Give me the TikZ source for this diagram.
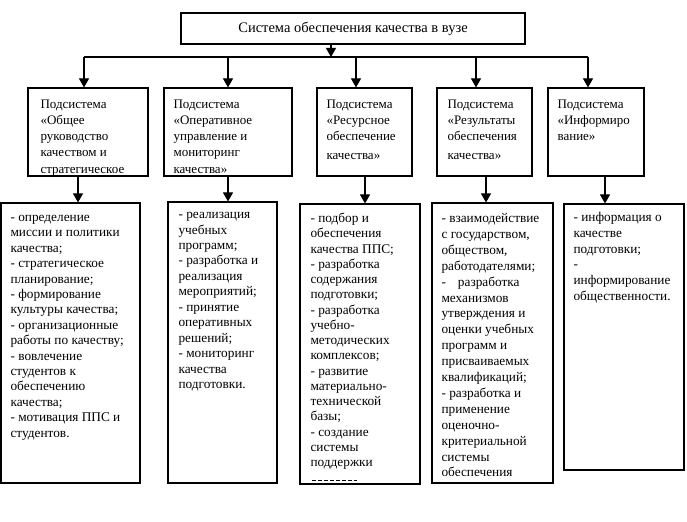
\documentclass[tikz,border=0pt]{standalone}
\usepackage{fontspec}
\setmainfont{Liberation Serif}
\usetikzlibrary{arrows.meta}
\begin{document}
\begin{tikzpicture}[x=1bp,y=-1bp,line width=1.1bp,
  box/.style={draw,inner sep=0,minimum width=#1},
  arr/.style={-{Triangle[width=10bp,length=9bp]}},
  txt/.style={anchor=north west,inner sep=0,align=left,font=\fontsize{13.3bp}{#1bp}\selectfont},
  stxt/.style={anchor=north west,inner sep=0,align=left,font=\fontsize{13bp}{16.1bp}\selectfont}]
\useasboundingbox (0,0) rectangle (687,522);
% title
\node[box=344bp,minimum height=31bp,font=\fontsize{14.5bp}{17bp}\selectfont] (title) at (353,28.5) {Система обеспечения качества в вузе};
% subsystem boxes
\node[box=120bp,minimum height=88bp] (s1) at (88,132) {};
\node[box=128bp,minimum height=88bp] (s2) at (228,132) {};
\node[box=95bp,minimum height=88bp] (s3) at (364.5,132) {};
\node[box=95bp,minimum height=88bp] (s4) at (484.5,132) {};
\node[box=96bp,minimum height=88bp] (s5) at (596,132) {};
% detail boxes
\node[box=139bp,minimum height=280bp] (d1) at (70.5,343) {};
\node[box=109bp,minimum height=281bp] (d2) at (222.5,342.5) {};
\node[box=120bp,minimum height=280bp] (d3) at (360,344) {};
\node[box=121bp,minimum height=280bp] (d4) at (492.5,343) {};
\node[box=120bp,minimum height=266bp] (d5) at (624,337) {};
% subsystem texts
\node[stxt] (t1) at (40,96.8) {\strut Подсистема\\«Общее\\руководство\\качеством и\\стратегическое};
\node[stxt] (t2) at (173,96.8) {\strut Подсистема\\«Оперативное\\управление и\\мониторинг\\качества»};
\node[stxt] (t3) at (326,96.8) {\strut Подсистема\\«Ресурсное\\обеспечение\\[3bp]качества»};
\node[stxt] (t4) at (447,96.8) {\strut Подсистема\\«Результаты\\обеспечения\\[3bp]качества»};
\node[stxt] (t5) at (557,96.8) {\strut Подсистема\\«Информиро\\вание»};
% detail texts
\node[txt=15.4] (u1) at (10,210.2) {\strut - определение\\миссии и политики\\качества;\\- стратегическое\\планирование;\\- формирование\\культуры качества;\\- организационные\\работы по качеству;\\- вовлечение\\студентов к\\обеспечению\\качества;\\- мотивация ППС и\\студентов.};
\node[txt=15.45] (u2) at (178,207.2) {\strut - реализация\\учебных\\программ;\\- разработка и\\реализация\\мероприятий;\\- принятие\\оперативных\\решений;\\- мониторинг\\качества\\подготовки.};
\node[txt=15.25] (u3) at (310,211.3) {\strut - подбор и\\обеспечения\\качества ППС;\\- разработка\\содержания\\подготовки;\\- разработка\\учебно-\\методических\\комплексов;\\- развитие\\материально-\\технической\\базы;\\- создание\\системы\\поддержки};
\node[txt=15.9] (u4) at (441,210.9) {\strut - взаимодействие\\с государством,\\обществом,\\работодателями;\\-\hspace{12bp}разработка\\механизмов\\утверждения и\\оценки учебных\\программ и\\присваиваемых\\квалификаций;\\- разработка и\\применение\\оценочно-\\критериальной\\системы\\обеспечения};
\node[txt=15.8] (u5) at (573,209.9) {\strut - информация о\\качестве\\подготовки;\\-\\информирование\\общественности.};
% clipped line remnant in d3
\draw[line width=0.8bp,dash pattern=on 4bp off 2bp] (312,480) -- (357,480);
% bus
\coordinate (bus) at (331,57);
\coordinate (b1) at (84,57);
\coordinate (b2) at (228,57);
\coordinate (b3) at (356,57);
\coordinate (b4) at (476,57);
\coordinate (b5) at (588,57);
\draw[arr] (title.south -| bus) -- (bus);
\draw (b1) -- (b5);
\foreach \i in {1,...,5} { \draw[arr] (b\i) -- (b\i |- s\i.north); }
% lower connectors
\coordinate (c1) at (78,0);
\coordinate (c2) at (228,0);
\coordinate (c3) at (365,0);
\coordinate (c4) at (486,0);
\coordinate (c5) at (605,0);
\foreach \i in {1,...,5} { \draw[arr] (s\i.south -| c\i) -- (d\i.north -| c\i); }
\end{tikzpicture}
\end{document}
